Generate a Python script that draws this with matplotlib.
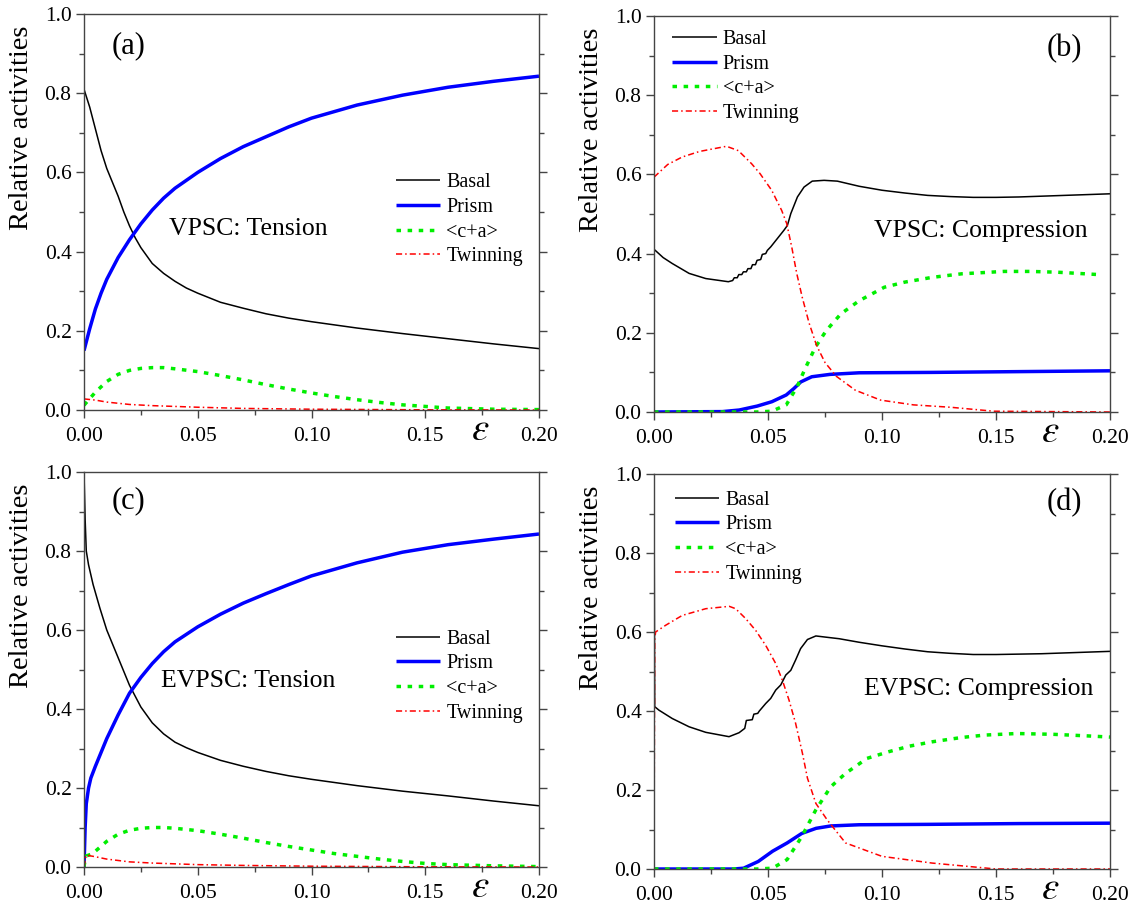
import matplotlib
matplotlib.use("Agg")
import matplotlib.pyplot as plt
from matplotlib.ticker import MultipleLocator, FormatStrFormatter
import matplotlib.transforms as mtransforms

plt.rcParams['font.family'] = ['Liberation Serif', 'DejaVu Serif']
plt.rcParams['mathtext.fontset'] = 'stix'

# ---------------- data: panel (a) VPSC tension ----------------
a_basal_x = [0, 0.0025, 0.005, 0.0075, 0.01, 0.0125, 0.015, 0.0175, 0.02, 0.0225, 0.025, 0.03, 0.035,
             0.04, 0.045, 0.05, 0.06, 0.07, 0.08, 0.09, 0.10, 0.12, 0.14, 0.16, 0.18, 0.20]
a_basal_y = [0.81, 0.765, 0.71, 0.655, 0.61, 0.575, 0.54, 0.5, 0.465, 0.435, 0.41, 0.37, 0.345,
             0.325, 0.308, 0.295, 0.272, 0.257, 0.243, 0.232, 0.223, 0.207, 0.193, 0.18, 0.167, 0.155]
a_prism_x = [0, 0.0025, 0.005, 0.0075, 0.01, 0.015, 0.02, 0.025, 0.03, 0.035, 0.04, 0.05, 0.06,
             0.07, 0.08, 0.09, 0.10, 0.12, 0.14, 0.16, 0.18, 0.20]
a_prism_y = [0.15, 0.205, 0.255, 0.295, 0.33, 0.385, 0.43, 0.47, 0.505, 0.535, 0.56, 0.60, 0.635,
             0.665, 0.69, 0.715, 0.737, 0.77, 0.795, 0.815, 0.83, 0.843]
a_cpa_x = [0, 0.005, 0.01, 0.015, 0.02, 0.025, 0.03, 0.035, 0.04, 0.05, 0.06, 0.07, 0.08, 0.09,
           0.10, 0.11, 0.12, 0.13, 0.14, 0.15, 0.16, 0.18, 0.20]
a_cpa_y = [0.012, 0.045, 0.072, 0.09, 0.1, 0.105, 0.107, 0.107, 0.104, 0.097, 0.087, 0.076, 0.064,
           0.053, 0.043, 0.034, 0.026, 0.019, 0.013, 0.009, 0.005, 0.002, 0.001]
a_twin_x = [0, 0.005, 0.01, 0.02, 0.03, 0.04, 0.05, 0.07, 0.10, 0.15, 0.20]
a_twin_y = [0.028, 0.025, 0.02, 0.014, 0.011, 0.009, 0.007, 0.004, 0.002, 0.0005, 0.0]

# ---------------- data: panel (b) VPSC compression ----------------
b_basal_x = [0, 0.004, 0.008, 0.0154, 0.0227, 0.0326, 0.0345, 0.0352, 0.0365, 0.0372, 0.0385,
             0.0392, 0.0405, 0.0412, 0.0425, 0.0432, 0.0445, 0.0452, 0.0468, 0.0475, 0.049, 0.0497,
             0.0512, 0.0541, 0.057, 0.0585, 0.06, 0.0629, 0.0658, 0.0694, 0.0746, 0.0804, 0.09,
             0.10, 0.11, 0.12, 0.13, 0.14, 0.15, 0.16, 0.17, 0.18, 0.19, 0.20]
b_basal_y = [0.411, 0.39, 0.375, 0.35, 0.337, 0.329, 0.332, 0.339, 0.339, 0.347, 0.347,
             0.354, 0.354, 0.362, 0.362, 0.372, 0.372, 0.383, 0.385, 0.398, 0.4, 0.408,
             0.417, 0.438, 0.459, 0.471, 0.501, 0.543, 0.568, 0.583, 0.585, 0.583, 0.57,
             0.56, 0.553, 0.547, 0.544, 0.542, 0.542, 0.543, 0.545, 0.547, 0.549, 0.551]
b_prism_x = [0, 0.03, 0.0374, 0.0453, 0.0517, 0.058, 0.0613, 0.0644, 0.0692, 0.0772, 0.09, 0.1217, 0.20]
b_prism_y = [0.0, 0.001, 0.005, 0.015, 0.026, 0.043, 0.059, 0.076, 0.089, 0.095, 0.099, 0.1, 0.104]
b_cpa_x = [0, 0.045, 0.0517, 0.058, 0.0628, 0.066, 0.0708, 0.0756, 0.082, 0.09, 0.101, 0.11, 0.122,
           0.135, 0.1535, 0.165, 0.177, 0.195]
b_cpa_y = [0.0, 0.0, 0.002, 0.018, 0.064, 0.106, 0.164, 0.206, 0.248, 0.281, 0.315, 0.328, 0.34,
           0.349, 0.355, 0.355, 0.353, 0.347]
b_twin_x = [0, 0.006, 0.0124, 0.02, 0.0318, 0.037, 0.0428, 0.0465, 0.0516, 0.056, 0.0582, 0.0604,
            0.0626, 0.065, 0.068, 0.0713, 0.075, 0.08, 0.0883, 0.0994, 0.1138, 0.13, 0.149, 0.20]
b_twin_y = [0.593, 0.625, 0.644, 0.658, 0.671, 0.66, 0.627, 0.602, 0.56, 0.509, 0.476, 0.417,
            0.35, 0.29, 0.225, 0.168, 0.125, 0.09, 0.055, 0.03, 0.018, 0.012, 0.002, 0.0]

# ---------------- data: panel (c) EVPSC tension ----------------
c_basal_x = [0, 0.0005, 0.001, 0.002, 0.004, 0.007, 0.01, 0.0125, 0.015, 0.0175, 0.02, 0.025, 0.03,
             0.035, 0.04, 0.045, 0.05, 0.06, 0.07, 0.08, 0.09, 0.10, 0.12, 0.14, 0.16, 0.18, 0.20]
c_basal_y = [1.0, 0.88, 0.8, 0.765, 0.715, 0.655, 0.6, 0.565, 0.53, 0.495, 0.46, 0.405, 0.365,
             0.337, 0.316, 0.302, 0.29, 0.27, 0.255, 0.242, 0.231, 0.222, 0.206, 0.192, 0.18, 0.167, 0.155]
c_prism_x = [0, 0.0005, 0.001, 0.002, 0.003, 0.005, 0.0075, 0.01, 0.015, 0.02, 0.025, 0.03, 0.035,
             0.04, 0.05, 0.06, 0.07, 0.08, 0.09, 0.10, 0.12, 0.14, 0.16, 0.18, 0.20]
c_prism_y = [0.0, 0.1, 0.16, 0.2, 0.225, 0.255, 0.29, 0.325, 0.385, 0.44, 0.48, 0.515, 0.545,
             0.57, 0.608, 0.64, 0.668, 0.692, 0.715, 0.737, 0.77, 0.797, 0.816, 0.83, 0.843]
c_cpa_x = [0, 0.0005, 0.001, 0.003, 0.005, 0.01, 0.015, 0.02, 0.025, 0.03, 0.035, 0.04, 0.05, 0.06,
           0.07, 0.08, 0.09, 0.10, 0.11, 0.12, 0.13, 0.14, 0.15, 0.16, 0.18, 0.20]
c_cpa_y = [0.0, 0.02, 0.028, 0.032, 0.04, 0.065, 0.083, 0.093, 0.098, 0.1, 0.1, 0.098, 0.092, 0.083,
           0.073, 0.062, 0.052, 0.043, 0.034, 0.027, 0.02, 0.014, 0.009, 0.006, 0.003, 0.001]
c_twin_x = [0, 0.001, 0.005, 0.01, 0.02, 0.03, 0.04, 0.05, 0.07, 0.10, 0.15, 0.20]
c_twin_y = [0.0, 0.03, 0.026, 0.02, 0.013, 0.01, 0.008, 0.006, 0.004, 0.002, 0.0005, 0.0]

# ---------------- data: panel (d) EVPSC compression ----------------
d_basal_x = [0, 0.0003, 0.0022, 0.008, 0.0154, 0.0227, 0.0329, 0.0373, 0.0398, 0.0405, 0.0431,
             0.0438, 0.0455, 0.0462, 0.049, 0.0512, 0.0534, 0.0556, 0.0578, 0.06, 0.0621, 0.0643,
             0.0673, 0.071, 0.0753, 0.0812, 0.09, 0.10, 0.11, 0.12, 0.13, 0.14, 0.15, 0.16,
             0.17, 0.18, 0.19, 0.20]
d_basal_y = [1.0, 0.411, 0.402, 0.381, 0.36, 0.346, 0.335, 0.345, 0.356, 0.376, 0.378,
             0.392, 0.394, 0.4, 0.419, 0.432, 0.453, 0.466, 0.491, 0.503, 0.529, 0.558,
             0.581, 0.59, 0.587, 0.583, 0.574, 0.565, 0.557, 0.55, 0.546, 0.543, 0.543, 0.544,
             0.545, 0.547, 0.549, 0.551]
d_prism_x = [0, 0.035, 0.0393, 0.0457, 0.052, 0.0584, 0.0648, 0.0711, 0.0775, 0.09, 0.12, 0.16, 0.20]
d_prism_y = [0.0, 0.0, 0.002, 0.019, 0.045, 0.066, 0.09, 0.103, 0.109, 0.112, 0.113, 0.115, 0.116]
d_cpa_x = [0, 0.045, 0.052, 0.0584, 0.0648, 0.071, 0.0775, 0.084, 0.0934, 0.103, 0.112, 0.122,
           0.135, 0.145, 0.159, 0.175, 0.19, 0.20]
d_cpa_y = [0.0, 0.0, 0.002, 0.024, 0.082, 0.15, 0.208, 0.242, 0.28, 0.297, 0.311, 0.322,
           0.333, 0.339, 0.343, 0.341, 0.337, 0.334]
d_twin_x = [0, 0.0003, 0.0007, 0.0051, 0.0124, 0.0227, 0.033, 0.0358, 0.0402, 0.0446, 0.049,
            0.0534, 0.0563, 0.0592, 0.0621, 0.0651, 0.0673, 0.071, 0.076, 0.084, 0.10, 0.122,
            0.15, 0.20]
d_twin_y = [0.0, 0.58, 0.6, 0.617, 0.642, 0.659, 0.665, 0.659, 0.634, 0.604, 0.566,
            0.52, 0.478, 0.428, 0.369, 0.293, 0.23, 0.166, 0.124, 0.066, 0.032, 0.015,
            0.0, 0.0]

labels = ['Basal', 'Prism', '<c+a>', 'Twinning']
panel_tags = ['(a)', '(b)', '(c)', '(d)']
panel_titles = ['VPSC: Tension', 'VPSC: Compression', 'EVPSC: Tension', 'EVPSC: Compression']

panels = [
    [(a_basal_x, a_basal_y), (a_prism_x, a_prism_y), (a_cpa_x, a_cpa_y), (a_twin_x, a_twin_y)],
    [(b_basal_x, b_basal_y), (b_prism_x, b_prism_y), (b_cpa_x, b_cpa_y), (b_twin_x, b_twin_y)],
    [(c_basal_x, c_basal_y), (c_prism_x, c_prism_y), (c_cpa_x, c_cpa_y), (c_twin_x, c_twin_y)],
    [(d_basal_x, d_basal_y), (d_prism_x, d_prism_y), (d_cpa_x, d_cpa_y), (d_twin_x, d_twin_y)],
]

styles = [
    dict(color='black', lw=1.1, ls='-'),
    dict(color='#0000ff', lw=2.5, ls='-'),
    dict(color='#00ee00', lw=2.5, ls=(0, (1.3, 1.9))),
    dict(color='#ff0000', lw=1.1, ls=(0, (4, 2, 1, 2))),
]

W, H = 1137, 907
fig = plt.figure(figsize=(W / 100, H / 100), dpi=100)

rects = [
    (84, 14, 539, 410),
    (654, 16, 1110, 412),
    (84, 472, 539, 867),
    (654, 474, 1110, 869),
]

tag_pos = [(0.098, 0.92), (0.899, 0.918), (0.098, 0.927), (0.9, 0.927)]
title_pos = [(0.187, 0.458, 'left'), (0.951, 0.457, 'right'),
             (0.169, 0.47, 'left'), (0.964, 0.456, 'right')]
legend_anchor = [(0.686, 0.598), (0.04, 0.965), (0.686, 0.601), (0.046, 0.958)]

for i, (x0, y0, x1, y1) in enumerate(rects):
    ax = fig.add_axes([x0 / W, 1 - y1 / H, (x1 - x0) / W, (y1 - y0) / H])
    for (xs, ys), st, lab in zip(panels[i], styles, labels):
        ax.plot(xs, ys, label=lab, solid_capstyle='butt', dash_capstyle='butt', **st)
    ax.set_xlim(0, 0.2)
    ax.set_ylim(0, 1.0)
    ax.xaxis.set_major_locator(MultipleLocator(0.05))
    ax.xaxis.set_minor_locator(MultipleLocator(0.025))
    ax.yaxis.set_major_locator(MultipleLocator(0.2))
    ax.yaxis.set_minor_locator(MultipleLocator(0.1))
    ax.xaxis.set_major_formatter(FormatStrFormatter('%.2f'))
    ax.yaxis.set_major_formatter(FormatStrFormatter('%.1f'))
    ax.tick_params(which='both', direction='out', right=True, top=False,
                   labelsize=15.5, color='#444444', width=1)
    ax.tick_params(which='major', length=6, pad=3)
    ax.tick_params(axis='x', which='major', pad=6)
    ax.tick_params(which='minor', length=3.5)
    for sp in ax.spines.values():
        sp.set_color('#444444')
        sp.set_linewidth(1.0)
    ax.set_ylabel('Relative activities', fontsize=20.5)
    ax.yaxis.set_label_coords(-0.11, 0.712)
    ax.text(tag_pos[i][0], tag_pos[i][1], panel_tags[i], transform=ax.transAxes,
            fontsize=22, ha='center', va='center')
    tx, ty, ha = title_pos[i]
    ax.text(tx, ty, panel_titles[i], transform=ax.transAxes, fontsize=18.5, ha=ha, va='center')
    trans = mtransforms.blended_transform_factory(ax.transData, ax.transAxes)
    ax.text(0.174, -0.076, r'$\varepsilon$', transform=trans, fontsize=28,
            ha='center', va='baseline')
    ax.legend(loc='upper left', bbox_to_anchor=legend_anchor[i], frameon=False,
              fontsize=14.5, handlelength=2.2, handletextpad=0.3, labelspacing=0.28,
              borderpad=0, borderaxespad=0)

fig.savefig('out.png', dpi=100)
